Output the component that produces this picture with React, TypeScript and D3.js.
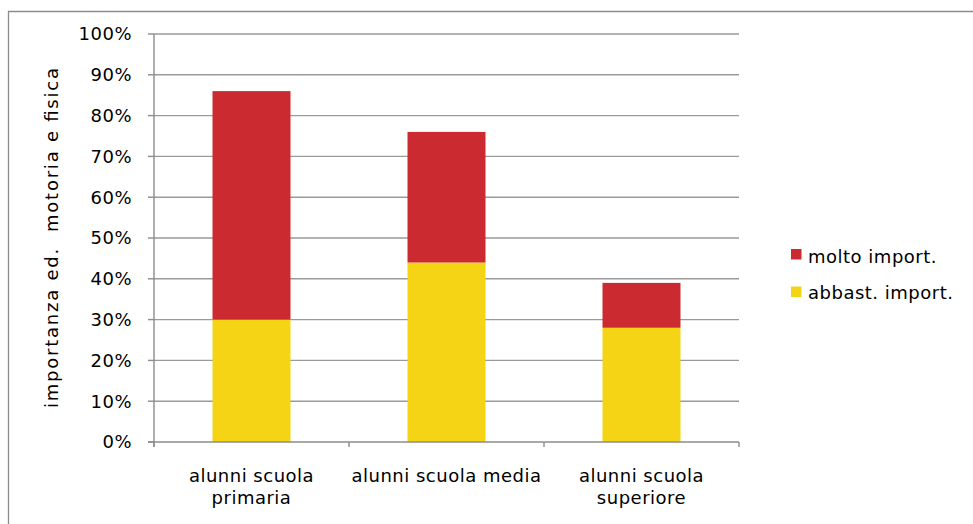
import React from "react";
import * as d3 from "d3";

const categories = [["alunni scuola", "primaria"], ["alunni scuola media"], ["alunni scuola", "superiore"]];
const abbastanza = [30, 44, 28];
const molto = [56, 32, 11];
const yTicks = [0, 10, 20, 30, 40, 50, 60, 70, 80, 90, 100];
const seriesNames = ["molto import.", "abbast. import."];
const yTitle = "importanza ed.  motoria e fisica";

const W = 973, H = 524;
const plot = { left: 154, right: 739, top: 34, bottom: 442 };
const RED = "#CC2A31";
const YELLOW = "#F5D415";
const FONT = "'DejaVu Sans', Verdana, sans-serif";
const FS = 18;
const LS = 0.5;

export default function App() {
  const x = d3.scaleBand<number>().domain([0, 1, 2]).range([plot.left, plot.right]).paddingInner(0.6).paddingOuter(0.3);
  const xb = d3.scaleBand<number>().domain([0, 1, 2]).range([plot.left, plot.right]);
  const y = d3.scaleLinear().domain([0, 100]).range([plot.bottom, plot.top]);
  const bw = x.bandwidth();

  return (
    <div style={{ position: "fixed", left: 0, top: 0 }}>
      <svg width={W} height={H} style={{ display: "block" }}>
        <rect x={0} y={0} width={W} height={H} fill="#fff" />
        <path d={`M8.5,${H + 2} V11.5 H${W + 2}`} fill="none" stroke="#8c8c8c" strokeWidth={1.3} />
        {yTicks.map((t) => (
          <g key={t}>
            {t > 0 && (
              <line x1={plot.left} x2={plot.right} y1={y(t)} y2={y(t)} stroke="#9a9a9a" strokeWidth={1.4} />
            )}
            <line x1={plot.left - 6} x2={plot.left} y1={y(t)} y2={y(t)} stroke="#8c8c8c" strokeWidth={1.4} />
            <text x={132} y={y(t)} dy="0.36em" textAnchor="end" fontFamily={FONT} fontSize={FS} letterSpacing={LS} fill="#000">
              {t}%
            </text>
          </g>
        ))}
        {abbastanza.map((v, i) => (
          <g key={i}>
            <rect x={x(i)} y={y(v)} width={bw} height={y(0) - y(v)} fill={YELLOW} />
            <rect x={x(i)} y={y(v + molto[i])} width={bw} height={y(v) - y(v + molto[i])} fill={RED} />
          </g>
        ))}
        <line x1={plot.left} x2={plot.left} y1={plot.top} y2={plot.bottom + 5} stroke="#8c8c8c" strokeWidth={1.4} />
        <line x1={plot.left - 6} x2={plot.right} y1={plot.bottom} y2={plot.bottom} stroke="#8c8c8c" strokeWidth={1.4} />
        {[0, 1, 2, 3].map((k) => {
          const px = k < 3 ? (xb(k) as number) : plot.right;
          return <line key={k} x1={px} x2={px} y1={plot.bottom} y2={plot.bottom + 5} stroke="#8c8c8c" strokeWidth={1.4} />;
        })}
        {categories.map((lines, i) => (
          <text key={i} textAnchor="middle" fontFamily={FONT} fontSize={FS} letterSpacing={LS} fill="#000">
            {lines.map((l, j) => (
              <tspan key={j} x={(xb(i) as number) + xb.bandwidth() / 2} y={482 + j * 21.5}>
                {l}
              </tspan>
            ))}
          </text>
        ))}
        <text
          transform={`translate(58,238) rotate(-90)`}
          textAnchor="middle"
          fontFamily={FONT}
          fontSize={FS}
          fill="#000"
          textLength={340}
          lengthAdjust="spacing"
          style={{ whiteSpace: "pre" }}
        >
          {yTitle}
        </text>
        {seriesNames.map((s, i) => (
          <g key={s}>
            <rect x={791} y={249 + i * 37.5} width={10.5} height={10.5} fill={i === 0 ? RED : YELLOW} />
            <text x={808} y={262.5 + i * 36.5} fontFamily={FONT} fontSize={FS} letterSpacing={LS} fill="#000">
              {s}
            </text>
          </g>
        ))}
      </svg>
    </div>
  );
}
